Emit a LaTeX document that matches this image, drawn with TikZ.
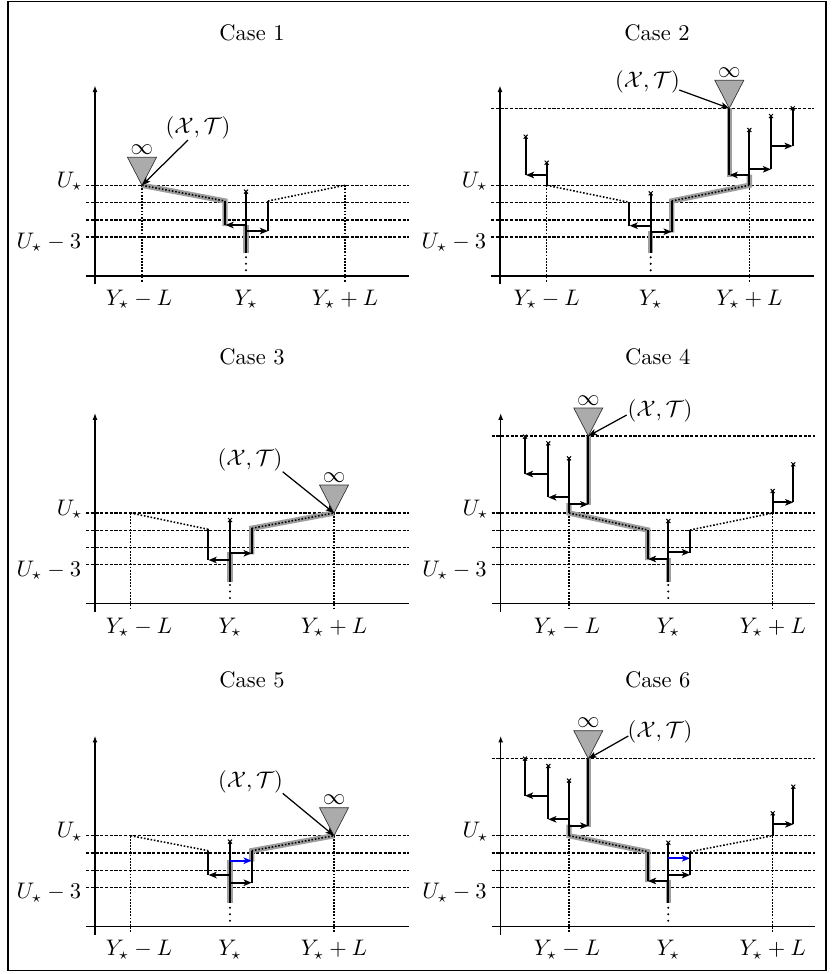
\documentclass[tikz,border=0pt]{standalone}
\usetikzlibrary{arrows.meta,calc}
\tikzset{
  blk/.style={line width=0.75pt,line cap=butt},
  hl/.style={line width=2.4pt,draw=black!38,line join=miter},
  hdash/.style={line width=0.55pt,dash pattern=on 1.4pt off 0.7pt},
  vdot/.style={line width=0.6pt,dash pattern=on 0.8pt off 0.6pt},
  sdot/.style={line width=0.7pt,dash pattern=on 0.7pt off 0.8pt},
  arr/.style={blk,-{Stealth[length=3.6pt,width=2.9pt,inset=0.9pt]}},
  barr/.style={arr,draw=blue,fill=blue},
  xmk/.style={line width=0.45pt},
  trist/.style={fill=black!33,draw=black!80,line width=0.3pt},
  axln/.style={line width=0.65pt},
  ptr/.style={line width=0.55pt,-{Stealth[length=3.8pt,width=2.8pt,inset=0.9pt]}},
  lab/.style={inner sep=0pt},
}
% frame of one panel: #1 axis x, #2 U* y, #3 Y-L x, #4 Y x, #5 Y+L x, #6 title, #7 prefix, #8 title y, #9 Y-L label x
\newcommand\pframe[9]{%
  \foreach \dd in {0,17.3,34.6,51.7}{\draw[hdash] ({#1-9},{#2+\dd}) -- ({#1+314},{#2+\dd});}
  \draw[axln] ({#1-9},{#2+90.7}) -- ({#1+314},{#2+90.7});
  \draw[axln,-{Latex[length=3pt,width=2.2pt]}] (#1,{#2+99}) -- (#1,{#2-100});
  \draw[vdot] (#3,#2) -- (#3,{#2+97});
  \draw[vdot] (#5,#2) -- (#5,{#2+97});
  \foreach \dd in {4,10.5,17}{\fill (#4,{#2+68+\dd}) circle (1.15);}
  \node (#7t) at ({#1+157},#8) {#6};
  \node[lab,anchor=base east] (#7u) at ({#1-12},{#2+2}) {$U_\star$};
  \node[lab,anchor=base east] (#7v) at ({#1-13.5},{#2+63}) {$U_\star-3$};
  \node[lab,anchor=base] (#7a) at (#9,{#2+120}) {$Y_\star-L$};
  \node[lab,anchor=base] (#7b) at (#4,{#2+120}) {$Y_\star$};
  \node[lab,anchor=base] (#7c) at (#5,{#2+120}) {$Y_\star+L$};
}
\newcommand\topline[2]{\draw[hdash] ({#1-9},{#2-77}) -- ({#1+314},{#2-77});}
\newcommand\xm[2]{\draw[xmk] (#1,#2) +(-2,-2) -- +(2,2) +(-2,2) -- +(2,-2);}
% triangle with infinity: #1 x, #2 y apex, #3 name
\newcommand\tri[3]{%
  \coordinate (#3) at (#1,#2);
  \filldraw[trist] (#3) -- ++(-14.5,-28) -- ++(29,0) -- cycle;
  \node[inner sep=0.6pt,anchor=south] (#3i) at ($(#3)+(0,-29)$) {$\infty$};
}
\begin{document}
\begin{tikzpicture}[x=0.4444pt,y=-0.4444pt]
\useasboundingbox (0,0) rectangle (832,974);
\draw[line width=0.7pt] (8,1.5) rectangle (826,970.5);

%%%%%%%%%%%%%%%% Case 1
\pframe{95}{185.3}{142}{246}{345}{Case 1}{c1}{33}{139}
\draw[hl] (142,185.3) -- (225,201) -- (225,226);
\draw[hl] (246,224.5) -- (246,253.3);
\draw[sdot] (142,185.3) -- (225,201);
\draw[blk] (225,201) -- (225,225);
\draw[arr] (246,225) -- (225.5,225);
\draw[blk] (246,191.7) -- (246,253.3); \xm{246}{191.7}
\draw[arr] (246,231) -- (268,231);
\draw[blk] (268,231.3) -- (268,201);
\draw[sdot] (268,201) -- (345,185.3);
\tri{142}{185.3}{c1p}
\node (c1l) at (198,128) {$(\mathcal{X},\mathcal{T})$};
\draw[ptr] (188,140) -- (c1p);

%%%%%%%%%%%%%%%% Case 2
\pframe{500}{185.3}{546.7}{650.7}{749.3}{Case 2}{c2}{33}{546.7}
\topline{500}{185.3}
\draw[hl] (729.3,108.3) -- (729.3,176.5);
\draw[hl] (749.3,174.5) -- (749.3,185.3) -- (671.7,201) -- (671.7,232.5);
\draw[hl] (650.7,230.5) -- (650.7,253.3);
\draw[blk] (525.7,136.7) -- (525.7,175); \xm{525.7}{136.7}
\draw[arr] (546.7,175) -- (526,175);
\draw[blk] (546.7,162.7) -- (546.7,185.3); \xm{546.7}{162.7}
\draw[sdot] (546.7,185.3) -- (629.3,202.3);
\draw[blk] (629.3,202.3) -- (629.3,225.7);
\draw[arr] (650.7,225.7) -- (629.6,225.7);
\draw[blk] (650.7,193.3) -- (650.7,253.3); \xm{650.7}{193.3}
\draw[arr] (650.7,231.7) -- (671.7,231.7);
\draw[blk] (671.7,232) -- (671.7,201);
\draw[sdot] (671.7,201) -- (749.3,185.3);
\draw[blk] (749.3,130) -- (749.3,185.3); \xm{749.3}{130}
\draw[blk] (729.3,108.3) -- (729.3,175);
\draw[arr] (749.3,175) -- (729.6,175);
\draw[arr] (749.3,169.3) -- (771,169.3);
\draw[blk] (771,116) -- (771,169.3); \xm{771}{116}
\draw[arr] (771,146) -- (792.7,146);
\draw[blk] (792.7,108.3) -- (792.7,146); \xm{792.7}{108.3}
\tri{729.3}{108.3}{c2p}
\node (c2l) at (647.5,81.7) {$(\mathcal{X},\mathcal{T})$};
\draw[ptr] (679.3,90) -- (c2p);

%%%%%%%%%%%%%%%% Case 3
\pframe{95}{513}{130.7}{230}{334}{Case 3}{c3}{357}{139}
\draw[hl] (334,513) -- (251.7,528.3) -- (251.7,554.3);
\draw[hl] (230,552.3) -- (230,581.7);
\draw[sdot] (130.7,513) -- (208.3,529.3);
\draw[blk] (208.3,529.3) -- (208.3,560);
\draw[arr] (230,560) -- (208.6,560);
\draw[blk] (230,520) -- (230,581.7); \xm{230}{520}
\draw[arr] (230,553.3) -- (251.7,553.3);
\draw[blk] (251.7,553.6) -- (251.7,528.3);
\draw[sdot] (251.7,528.3) -- (334,513);
\tri{334}{513}{c3p}
\node (c3l) at (250,460) {$(\mathcal{X},\mathcal{T})$};
\draw[ptr] (282.7,471.7) -- (c3p);

%%%%%%%%%%%%%%%% Case 4
\pframe{500.7}{513}{569}{668.3}{772.7}{Case 4}{c4}{357}{567}
\topline{500.7}{513}
\draw[hl] (588.3,436) -- (588.3,505.3);
\draw[hl] (569,503) -- (569,513) -- (647.7,530) -- (647.7,560);
\draw[hl] (668.3,558) -- (668.3,581.7);
\draw[blk] (588.3,436) -- (588.3,504.3);
\draw[arr] (569,504.3) -- (588.3,504.3);
\draw[blk] (569,458.3) -- (569,513); \xm{569}{458.3}
\draw[arr] (569,497.3) -- (548.3,497.3);
\draw[blk] (548.3,443.3) -- (548.3,497.3); \xm{548.3}{443.3}
\draw[arr] (548.3,474) -- (525,474);
\draw[blk] (525,436.7) -- (525,474); \xm{525}{436.7}
\draw[sdot] (569,513) -- (647.7,530);
\draw[blk] (647.7,530) -- (647.7,559);
\draw[arr] (668.3,559) -- (648,559);
\draw[blk] (668.3,521) -- (668.3,581.7); \xm{668.3}{521}
\draw[arr] (668.3,552.3) -- (690,552.3);
\draw[blk] (690,552.6) -- (690,530);
\draw[sdot] (690,530) -- (772.7,513);
\draw[blk] (772.7,491) -- (772.7,513); \xm{772.7}{491}
\draw[arr] (772.7,502.3) -- (793.3,502.3);
\draw[blk] (793.3,464.3) -- (793.3,502.3); \xm{793.3}{464.3}
\tri{588.3}{436}{c4p}
\node (c4l) at (660,411) {$(\mathcal{X},\mathcal{T})$};
\draw[ptr] (626.7,415) -- (c4p);

%%%%%%%%%%%%%%%% Case 5
\pframe{95}{835.7}{130.7}{230}{334}{Case 5}{c5}{680}{139}
\draw[hl] (334,835.7) -- (251.7,850.7) -- (251.7,861.7);
\draw[hl] (230,860) -- (230,903.3);
\draw[sdot] (130.7,835.7) -- (208.3,850.7);
\draw[blk] (208.3,850.7) -- (208.3,875);
\draw[arr] (230,875) -- (208.6,875);
\draw[blk] (230,841.7) -- (230,903.3); \xm{230}{841.7}
\draw[barr] (230,860.7) -- (251.7,860.7);
\draw[arr] (230,882.7) -- (251.7,882.7);
\draw[blk] (251.7,883) -- (251.7,850.7);
\draw[sdot] (251.7,850.7) -- (334,835.7);
\tri{334}{835.7}{c5p}
\node (c5l) at (250.5,781.7) {$(\mathcal{X},\mathcal{T})$};
\draw[ptr] (282.7,793.3) -- (c5p);

%%%%%%%%%%%%%%%% Case 6
\pframe{500.7}{835.7}{569}{668.3}{772.7}{Case 6}{c6}{680}{567}
\topline{500.7}{835.7}
\draw[hl] (588.3,758.7) -- (588.3,826.7);
\draw[hl] (569,824.7) -- (569,835.7) -- (647.7,851.7) -- (647.7,882);
\draw[hl] (668.3,880) -- (668.3,903.3);
\draw[blk] (588.3,758.7) -- (588.3,825.7);
\draw[arr] (569,825.7) -- (588.3,825.7);
\draw[blk] (569,780.7) -- (569,835.7); \xm{569}{780.7}
\draw[arr] (569,819.3) -- (548.3,819.3);
\draw[blk] (548.3,766) -- (548.3,819.3); \xm{548.3}{766}
\draw[arr] (548.3,795.7) -- (525,795.7);
\draw[blk] (525,758.7) -- (525,795.7); \xm{525}{758.7}
\draw[sdot] (569,835.7) -- (647.7,851.7);
\draw[blk] (647.7,851.7) -- (647.7,881);
\draw[arr] (668.3,881) -- (648,881);
\draw[blk] (668.3,842.7) -- (668.3,903.3); \xm{668.3}{842.7}
\draw[barr] (668.3,858.3) -- (690,858.3);
\draw[arr] (668.3,875) -- (690,875);
\draw[blk] (690,875.3) -- (690,851.7);
\draw[sdot] (690,851.7) -- (772.7,835.7);
\draw[blk] (772.7,813.3) -- (772.7,835.7); \xm{772.7}{813.3}
\draw[arr] (772.7,824.3) -- (793.3,824.3);
\draw[blk] (793.3,786.7) -- (793.3,824.3); \xm{793.3}{786.7}
\tri{588.3}{758.7}{c6p}
\node (c6l) at (660,731.7) {$(\mathcal{X},\mathcal{T})$};
\draw[ptr] (628.3,736) -- (c6p);
\end{tikzpicture}
\end{document}
